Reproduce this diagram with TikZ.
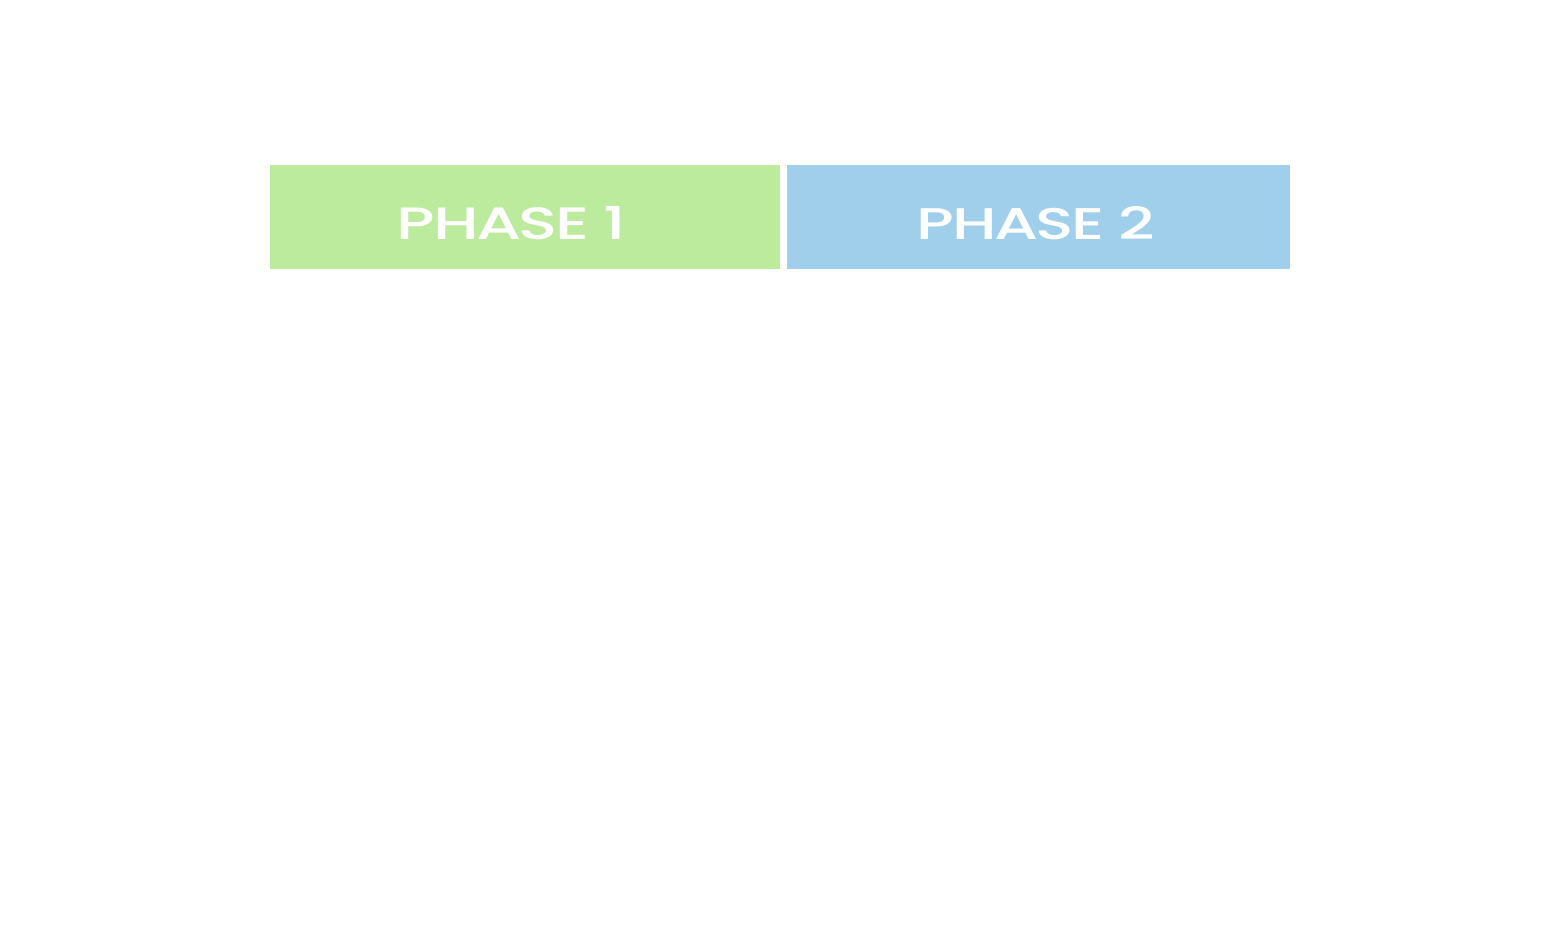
\documentclass[tikz,border=0pt]{standalone}
\usepackage{fontspec}
\setmainfont{Poppins}
\newfontfamily\titleface{Poppins}[UprightFont=* Medium,LetterSpace=-4]
\usepackage{graphicx}
\definecolor{phaseone}{HTML}{BCEB9E}
\definecolor{phasetwo}{HTML}{A0CFEB}
\begin{document}
\begin{tikzpicture}[x=1pt,y=-1pt,
  phasebox/.style={draw=none,inner sep=0pt,outer sep=0pt},
  phaselabel/.style={text=white,inner sep=0pt,anchor=center}]
\useasboundingbox (0,0) rectangle (1562,951);
\fill[white] (0,0) rectangle (1562,951);
% the two phase bars
\fill[phaseone] (270,165) rectangle (780,269);
\fill[phasetwo] (787,165) rectangle (1290,269);
\node[phasebox,minimum width=510pt,minimum height=104pt] (p1) at (525,217) {};
\node[phasebox,minimum width=503pt,minimum height=104pt] (p2) at (1038.5,217) {};
% bar titles, set in a wide face
\node[phaselabel] (t1) at (511.5,223.5) {\resizebox{229pt}{33pt}{\titleface PHASE 1}};
\node[phaselabel] (t2) at (1036,223.5) {\resizebox{238pt}{33pt}{\titleface PHASE 2}};
\end{tikzpicture}
\end{document}
